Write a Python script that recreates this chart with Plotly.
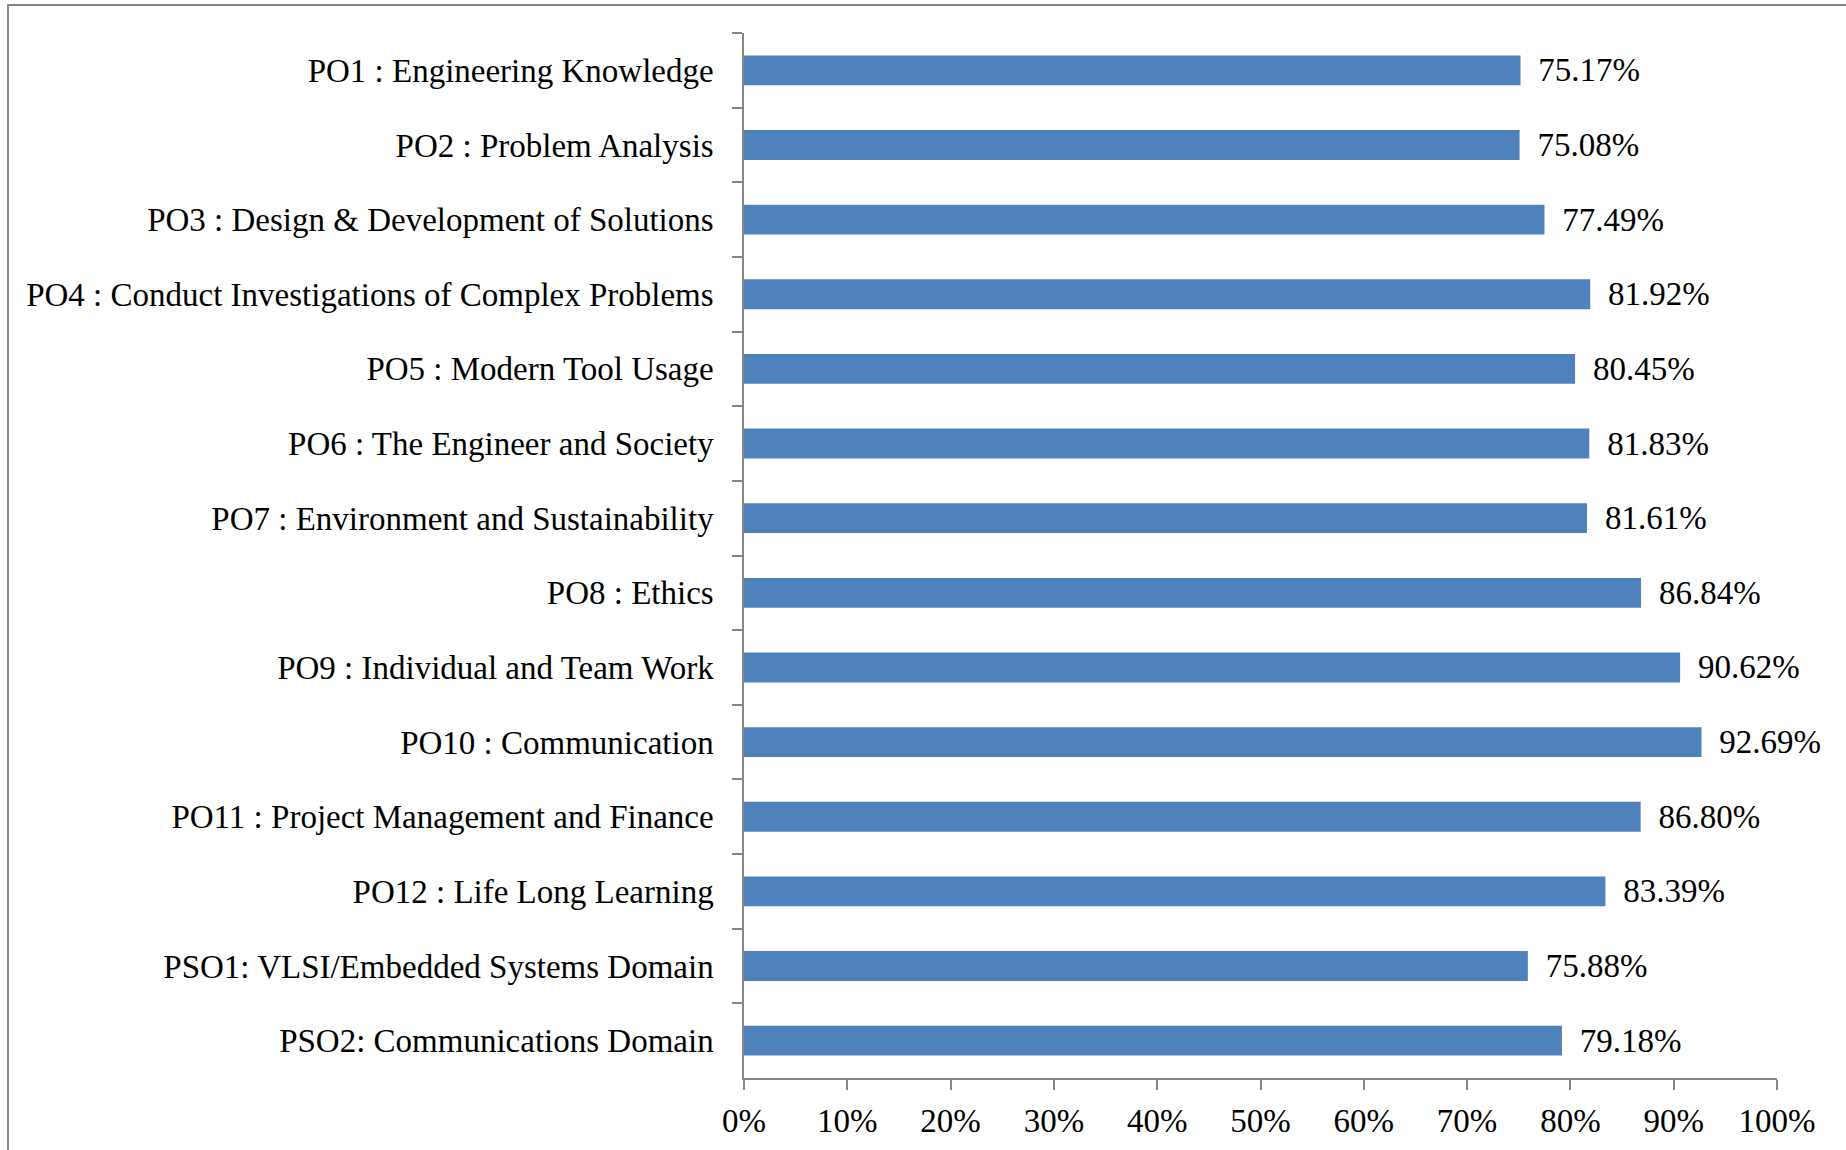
import plotly.graph_objects as go

categories = [
    "PO1 : Engineering Knowledge",
    "PO2 : Problem Analysis",
    "PO3 : Design & Development of Solutions",
    "PO4 : Conduct Investigations of Complex Problems",
    "PO5 : Modern Tool Usage",
    "PO6 : The Engineer and Society",
    "PO7 : Environment and Sustainability",
    "PO8 : Ethics",
    "PO9 : Individual and Team Work",
    "PO10 : Communication",
    "PO11 : Project Management and Finance",
    "PO12 : Life Long Learning",
    "PSO1: VLSI/Embedded Systems Domain",
    "PSO2: Communications Domain",
]
values = [75.17, 75.08, 77.49, 81.92, 80.45, 81.83, 81.61, 86.84, 90.62, 92.69, 86.80, 83.39, 75.88, 79.18]
x_ticks = [0, 10, 20, 30, 40, 50, 60, 70, 80, 90, 100]
x_tick_labels = [f"{t}%" for t in x_ticks]

W, H = 1846, 1150
L, R, T, B = 744, 69, 33, 72
pw, ph = W - L - R, H - T - B

FONT = "Liberation Serif"
FS = 33
AXIS_COLOR = "#868686"

fig = go.Figure(go.Bar(
    y=categories,
    x=values,
    orientation="h",
    marker=dict(color="#4F81BD", line=dict(width=0)),
    text=[f"\u00a0\u2009{v:.2f}%" for v in values],
    textposition="outside",
    textfont=dict(family=FONT, size=FS, color="#000000"),
    cliponaxis=False,
))

fig.update_layout(
    width=W, height=H,
    margin=dict(l=L, r=R, t=T, b=B, autoexpand=False),
    paper_bgcolor="white", plot_bgcolor="white",
    bargap=0.6,
    showlegend=False,
    font=dict(family=FONT, size=FS, color="#000000"),
    uniformtext=dict(minsize=FS, mode="show"),
)
fig.update_xaxes(
    range=[0, 100],
    tickvals=x_ticks, ticktext=x_tick_labels,
    showgrid=False, zeroline=False,
    showline=True, linecolor=AXIS_COLOR, linewidth=1.5,
    ticks="outside", ticklen=10, tickcolor=AXIS_COLOR, tickwidth=1.5,
    tickfont=dict(family=FONT, size=FS),
    ticklabelstandoff=3,
)
fig.update_yaxes(
    categoryorder="array", categoryarray=categories,
    autorange="reversed",
    showgrid=False, zeroline=False,
    showline=True, linecolor=AXIS_COLOR, linewidth=1.5,
    ticks="outside", ticklen=10, tickcolor=AXIS_COLOR, tickwidth=1.5,
    tickson="boundaries",
    tickfont=dict(family=FONT, size=FS),
    ticklabelstandoff=22,
)

# outer chart border (extends beyond the right and bottom edges)
fig.add_shape(
    type="rect", xref="paper", yref="paper",
    x0=(8 - L) / pw, x1=(W + 20 - L) / pw,
    y0=-(B + 20) / ph, y1=(H - B - 5) / ph,
    line=dict(color="#868686", width=2), fillcolor="rgba(0,0,0,0)",
    layer="below",
)

fig.write_html(
    "out.html",
    config={"displayModeBar": False},
    post_script="document.body.style.margin='0';",
)
